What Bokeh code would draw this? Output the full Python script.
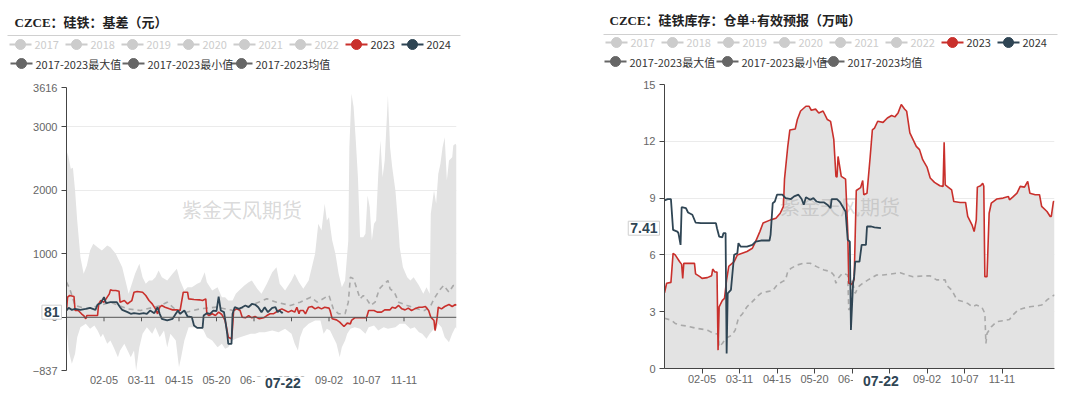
from bokeh.plotting import figure
from bokeh.layouts import row, column
from bokeh.models import Range1d, FixedTicker, Label, Span
from bokeh.core.properties import value
from bokeh.embed import file_html
from bokeh.resources import INLINE

# ---------------- texts ----------------
TITLE_BASIS = "CZCE：硅铁：基差（元）"
TITLE_INV = "CZCE：硅铁库存：仓单+有效预报（万吨）"
WATERMARK = "紫金天风期货"
LEGEND_INACTIVE = ["2017", "2018", "2019", "2020", "2021", "2022"]
LEGEND_ACTIVE = ["2023", "2024"]
LEGEND_STATS = ["2017-2023最大值", "2017-2023最小值", "2017-2023均值"]
TICK_DAYS = [35, 70, 105, 140, 175, 210, 245, 280, 315]
TICK_LABELS = ["02-05", "03-11", "04-15", "05-20", "06-24", "07-29", "09-02", "10-07", "11-11"]
POINTER_DATE = "07-22"

# ---------------- basis (元), day index 0 = 01-01 ----------------
basis_2023_day = [0, 1, 3, 7, 8, 11, 14, 16, 18, 19, 29, 30, 32, 35, 38, 40, 41, 43, 46, 49, 50, 54, 57, 59, 61, 63, 66, 71, 74, 77, 80, 83, 85, 87, 89, 92, 96, 99, 103, 106, 109, 113, 114, 119, 124, 127, 130, 131, 133, 136, 139, 142, 145, 148, 149, 151, 154, 155, 156, 159, 162, 164, 167, 170, 173, 176, 180, 184, 187, 190, 193, 198, 201, 204, 207, 210, 213, 215, 217, 218, 221, 223, 226, 229, 232, 235, 238, 241, 245, 246, 248, 252, 255, 259, 262, 265, 266, 269, 276, 280, 282, 287, 290, 294, 297, 302, 304, 307, 310, 313, 316, 319, 322, 325, 329, 332, 335, 338, 340, 343, 344, 346, 347, 350, 353, 357, 360, 363, 364]
basis_2023_val = [107, 317, 343, 327, 107, 107, 55, 28, -24, 28, 28, 212, 264, 238, 317, 369, 432, 422, 422, 411, 238, 264, 212, 238, 264, 395, 406, 395, 343, 264, 212, 133, 55, 159, 186, 159, 133, 117, 117, 107, 395, 395, 290, 280, 275, 264, 290, 55, 28, 55, 28, 81, 44, -50, -129, -313, -339, -155, 107, 133, 107, 2, -8, 28, -8, 13, -24, -8, 28, 55, 55, 107, 133, 107, 81, 107, 81, 159, 55, 107, 107, 55, 159, 170, 133, 159, 133, 159, 144, 107, -24, -40, -76, -145, -92, -103, -50, -8, -8, -8, 107, 107, 81, 81, 117, 117, 159, 144, 186, 133, 117, 144, 107, 133, 159, 159, 170, 107, 2, -50, -208, 2, 159, 133, 170, 201, 170, 201, 186]

basis_2024_day = [0, 2, 5, 8, 13, 18, 22, 27, 29, 32, 35, 37, 41, 47, 50, 52, 57, 60, 63, 68, 72, 75, 78, 82, 85, 87, 89, 94, 99, 102, 104, 106, 110, 113, 117, 119, 122, 127, 128, 131, 134, 137, 140, 142, 144, 147, 148, 150, 151, 154, 155, 157, 161, 164, 167, 170, 173, 176, 179, 182, 185, 188, 192, 195, 197, 199, 201, 202]
basis_2024_val = [107, 149, 117, 133, 117, 133, 149, 117, 201, 222, 317, 222, 238, 238, 159, 117, 81, 55, 65, 55, 65, 55, 107, 65, 159, 55, -24, -50, -24, 55, 107, 55, 107, 13, 2, -129, -166, -166, 28, 65, 55, 107, 96, 327, 107, 81, -24, -260, -418, -418, 55, 159, 133, 159, 186, 159, 212, 201, 159, 81, 159, 81, 149, 159, 81, 107, 70, 81]

basis_mean_day = [0, 3, 8, 19, 31, 41, 57, 69, 88, 94, 106, 125, 140, 156, 172, 187, 196, 209, 218, 228, 234, 242, 245, 249, 254, 260, 263, 265, 268, 271, 274, 277, 280, 284, 288, 292, 295, 300, 302, 306, 310, 318, 327, 334, 340, 343, 348, 352, 357, 361, 364]
basis_mean_val = [553, 448, 186, 134, 186, 238, 134, 107, 186, 238, 55, 134, 160, 107, 186, 291, 238, 186, 238, 317, 238, 317, 343, 134, 55, 55, 238, 632, 605, 448, 291, 343, 291, 186, 238, 448, 501, 579, 448, 396, 238, 186, 134, 107, 186, 291, 422, 501, 396, 501, 490]

basis_max_day = [0, 1, 4, 6, 8, 10, 13, 16, 19, 22, 25, 29, 33, 38, 41, 46, 49, 52, 55, 58, 61, 64, 68, 71, 74, 77, 80, 83, 86, 89, 94, 99, 103, 106, 110, 113, 117, 122, 125, 129, 131, 136, 141, 145, 148, 151, 155, 158, 161, 166, 170, 173, 178, 182, 187, 192, 196, 199, 204, 210, 213, 217, 221, 226, 229, 232, 235, 238, 241, 243, 245, 248, 251, 254, 257, 260, 263, 264, 266, 268, 270, 272, 274, 277, 279, 281, 283, 285, 287, 289, 291, 293, 295, 297, 300, 302, 304, 307, 310, 311, 314, 318, 321, 324, 329, 333, 336, 339, 340, 343, 345, 347, 349, 351, 353, 355, 357, 360, 361, 363, 364]
basis_max_val = [2467, 2598, 2336, 2352, 1995, 1523, 946, 684, 815, 1051, 1156, 1103, 1051, 1130, 1103, 999, 894, 789, 579, 369, 527, 684, 841, 631, 527, 579, 579, 631, 736, 631, 579, 684, 763, 579, 422, 474, 474, 527, 553, 710, 553, 422, 474, 317, 317, 264, 264, 369, 422, 500, 553, 579, 448, 369, 527, 710, 789, 527, 422, 579, 684, 553, 448, 579, 789, 999, 1471, 1366, 1785, 1523, 1576, 1208, 999, 684, 474, 579, 1208, 2677, 3516, 3306, 2782, 2205, 1261, 1261, 1313, 1916, 1733, 1208, 1471, 1523, 2257, 2782, 2205, 2467, 3490, 2677, 2362, 1995, 1366, 1103, 789, 631, 579, 631, 500, 369, 474, 369, 1628, 1995, 1785, 2257, 2415, 2677, 2834, 2153, 2467, 2520, 2703, 2729, 2703]

basis_min_day = [0, 2, 5, 8, 10, 13, 18, 22, 26, 29, 32, 34, 38, 41, 44, 48, 50, 54, 57, 60, 63, 65, 68, 71, 75, 80, 83, 87, 91, 94, 97, 102, 105, 107, 110, 114, 119, 122, 125, 128, 131, 136, 141, 145, 148, 151, 155, 158, 162, 167, 172, 176, 180, 185, 192, 198, 204, 210, 213, 216, 218, 221, 226, 232, 237, 240, 243, 246, 249, 252, 255, 257, 260, 262, 265, 269, 274, 279, 282, 287, 291, 296, 300, 307, 311, 316, 321, 325, 329, 332, 336, 339, 343, 344, 347, 350, 353, 357, 360, 363, 364]
basis_min_val = [-155, -522, -732, -575, -313, -155, -103, -181, -129, -208, -313, -260, -418, -365, -470, -627, -522, -418, -522, -627, -522, -837, -470, -260, -155, -260, -155, -313, -208, -470, -260, -365, -785, -627, -365, -155, -155, -181, -155, -208, -313, -365, -470, -418, -496, -470, -365, -339, -313, -286, -260, -260, -234, -234, -208, -234, -181, -260, -418, -522, -313, -181, -103, -50, -50, -260, -181, -208, -313, -418, -627, -470, -365, -260, -181, -155, -181, -260, -155, -129, -208, -155, -181, -155, -103, -103, -181, -155, -234, -260, -339, -260, -181, -230, -103, -155, -313, -392, -260, -155, -181]

# ---------------- inventory (万吨) ----------------
inv_2023_day = [0, 2, 6, 8, 10, 14, 16, 17, 18, 28, 29, 33, 35, 40, 44, 45, 47, 49, 50, 51, 54, 56, 58, 60, 65, 68, 77, 82, 85, 89, 92, 99, 104, 108, 111, 112, 115, 117, 122, 124, 127, 132, 135, 137, 141, 144, 148, 152, 155, 158, 160, 161, 162, 165, 169, 171, 172, 175, 177, 179, 183, 185, 186, 189, 192, 194, 196, 199, 204, 208, 212, 215, 218, 221, 224, 226, 229, 232, 235, 238, 241, 245, 248, 252, 257, 260, 261, 262, 268, 270, 276, 281, 283, 287, 289, 291, 292, 295, 297, 298, 299, 301, 303, 305, 310, 316, 321, 322, 325, 329, 332, 336, 339, 341, 346, 350, 352, 357, 360, 361, 363, 364]
inv_2023_val = [4.0, 4.5, 4.55, 6.08, 6.0, 5.65, 5.5, 4.76, 5.55, 5.55, 5.0, 4.85, 4.76, 4.8, 4.9, 5.25, 5.1, 5.1, 0.97, 3.26, 3.6, 3.7, 4.7, 5.4, 5.65, 6.0, 6.18, 6.35, 6.7, 7.23, 7.68, 7.85, 7.94, 8.2, 8.56, 10.0, 11.7, 12.6, 12.65, 13.15, 13.6, 13.85, 13.85, 13.64, 13.7, 13.5, 13.6, 13.15, 13.05, 12.1, 10.15, 10.1, 11.2, 10.15, 10.0, 7.3, 4.5, 4.45, 4.7, 9.4, 9.55, 9.93, 9.18, 9.26, 11.2, 12.6, 12.7, 13.06, 13.0, 13.23, 13.36, 13.29, 13.5, 13.94, 13.71, 13.59, 12.44, 12.09, 11.73, 11.56, 11.03, 10.64, 10.06, 9.83, 9.65, 9.62, 11.95, 9.7, 9.44, 8.82, 8.77, 8.77, 8.03, 7.59, 7.23, 7.85, 9.58, 9.65, 9.79, 9.62, 4.85, 4.85, 8.2, 8.73, 8.95, 9.0, 9.09, 8.91, 9.05, 9.26, 9.62, 9.58, 9.88, 9.26, 9.18, 9.18, 8.56, 8.29, 8.03, 8.03, 8.82, 8.82]

inv_2024_day = [0, 3, 6, 8, 12, 13, 15, 16, 20, 22, 26, 29, 34, 48, 49, 51, 54, 55, 57, 58, 59, 62, 64, 65, 68, 69, 71, 77, 82, 85, 90, 98, 99, 101, 103, 105, 110, 113, 118, 121, 125, 128, 130, 132, 136, 139, 142, 145, 149, 152, 155, 156, 161, 164, 169, 171, 173, 174, 176, 177, 178, 182, 184, 188, 189, 193, 196, 202]
inv_2024_val = [8.88, 8.95, 8.95, 7.32, 7.23, 7.15, 6.53, 8.52, 8.47, 8.24, 8.12, 7.71, 7.68, 7.68, 7.41, 6.97, 6.93, 7.15, 7.15, 0.79, 3.97, 4.15, 5.38, 6.0, 6.09, 6.62, 6.44, 6.44, 6.53, 6.7, 6.76, 6.76, 7.06, 8.73, 8.82, 9.18, 9.18, 9.0, 8.95, 9.09, 9.18, 8.95, 8.65, 9.05, 8.91, 9.0, 8.82, 8.77, 8.77, 8.65, 8.47, 8.95, 8.95, 8.77, 8.29, 6.8, 6.7, 2.03, 4.5, 4.85, 5.65, 5.65, 6.53, 6.53, 7.5, 7.5, 7.45, 7.41]

inv_mean_day = [0, 6, 10, 15, 21, 30, 37, 41, 46, 50, 51, 54, 57, 60, 63, 66, 69, 73, 77, 82, 87, 90, 96, 101, 105, 110, 113, 115, 118, 124, 130, 136, 142, 149, 155, 158, 160, 162, 166, 171, 172, 174, 175, 178, 181, 184, 190, 198, 204, 210, 220, 226, 232, 241, 248, 254, 262, 263, 268, 273, 279, 283, 287, 291, 296, 299, 300, 301, 305, 310, 316, 322, 325, 330, 335, 341, 347, 352, 357, 361, 364]
inv_mean_val = [2.65, 2.56, 2.38, 2.29, 2.24, 2.12, 2.06, 2.0, 1.85, 1.82, 1.15, 1.32, 1.59, 1.68, 1.76, 2.03, 2.65, 2.91, 3.26, 3.53, 3.83, 3.97, 4.06, 4.11, 4.41, 4.59, 4.68, 5.12, 5.29, 5.47, 5.56, 5.56, 5.38, 5.2, 5.12, 4.94, 4.5, 4.76, 5.03, 4.94, 3.09, 3.26, 4.68, 3.97, 4.32, 4.46, 4.68, 4.94, 4.94, 4.98, 5.06, 4.94, 4.85, 4.89, 4.89, 4.68, 4.68, 4.41, 4.15, 3.62, 3.53, 3.44, 3.26, 3.35, 3.26, 2.91, 1.32, 1.85, 2.2, 2.47, 2.52, 2.59, 2.82, 3.09, 3.18, 3.26, 3.3, 3.35, 3.62, 3.79, 3.88]

# the 2017-2023 maximum coincides with 2023 in this chart; the minimum sits at 0
inv_max_day = inv_2023_day
inv_max_val = inv_2023_val
inv_min_day = [0, 364]
inv_min_val = [0, 0]

# ---------------- styling ----------------
RED = "#c9302c"
BLUE = "#2f4554"
GREY_OFF = "#cccccc"
STAT = "#666666"
BAND = "#e3e3e3"
MEAN = "#a9a9a9"
CJK = "Noto Sans CJK SC"
TITLE_FONT = "Liberation Serif, Noto Sans CJK SC"
NUM = "Liberation Sans"


def make_header(width, height, title, tx, ty, rule, r1x, r1y, r2xs, r2y):
    h = figure(width=width, height=height, x_range=Range1d(0, width), y_range=Range1d(height, 0),
               x_axis_location=None, y_axis_location=None, toolbar_location=None,
               output_backend="svg", min_border=0, outline_line_color=None, frame_align=False)
    h.grid.visible = False
    h.text(x=[tx], y=[ty], text=[title], text_font=value(TITLE_FONT), text_font_size="13px",
           text_font_style="bold", text_color="#222222", text_baseline="middle")
    h.segment(x0=[rule[0]], y0=[rule[2]], x1=[rule[1]], y1=[rule[2]], line_color="#d0d0d0", line_width=1)
    names = LEGEND_INACTIVE + LEGEND_ACTIVE
    cols = [GREY_OFF] * len(LEGEND_INACTIVE) + [RED, BLUE]
    tcols = [GREY_OFF] * len(LEGEND_INACTIVE) + ["#333333"] * len(LEGEND_ACTIVE)
    xs = [r1x + 56 * i for i in range(len(names))]
    ys = [r1y] * len(names)
    h.segment(x0=[x - 11 for x in xs], y0=ys, x1=[x + 11 for x in xs], y1=ys, line_color=cols, line_width=2)
    h.scatter(x=xs, y=ys, size=10, fill_color=cols, line_color=cols)
    h.text(x=[x + 14 for x in xs], y=ys, text=names, text_color=tcols, text_font=value(CJK),
           text_font_size="11px", text_baseline="middle")
    ys2 = [r2y] * len(LEGEND_STATS)
    h.segment(x0=[x - 11 for x in r2xs], y0=ys2, x1=[x + 11 for x in r2xs], y1=ys2, line_color=STAT, line_width=2)
    h.scatter(x=r2xs, y=ys2, size=10, fill_color=STAT, line_color=STAT)
    h.text(x=[x + 14 for x in r2xs], y=ys2, text=LEGEND_STATS, text_color="#333333", text_font=value(CJK),
           text_font_size="11px", text_baseline="middle")
    return h


def style_axes(p):
    p.xgrid.visible = False
    p.ygrid.grid_line_color = "#ebebeb"
    for ax in (p.xaxis[0], p.yaxis[0]):
        ax.major_label_text_font = NUM
        ax.major_label_text_font_size = "11px"
        ax.major_label_text_color = "#666666"
        ax.minor_tick_line_color = None
        ax.major_tick_in = 0
    p.xaxis.ticker = FixedTicker(ticks=TICK_DAYS)
    p.xaxis.major_label_overrides = dict(zip(TICK_DAYS, TICK_LABELS))
    p.yaxis.axis_line_color = "#444444"
    p.yaxis.major_tick_line_color = "#444444"
    p.yaxis.major_tick_out = 5
    p.yaxis.major_label_standoff = 4


def pointer_labels(p, day, val, ybottom, dy, date_side):
    # axis-pointer boxes; they sit in side panels so that they are not clipped to the frame
    p.add_layout(Label(x=0, y=val, text=str(val), x_offset=-5, text_align="right", text_baseline="middle",
                       text_font=NUM, text_font_size="14px", text_font_style="bold", text_color=BLUE,
                       background_fill_color="white", border_line_color="#cfcfcf", padding=2), "left")
    p.add_layout(Label(x=day, y=ybottom, y_offset=dy, text=POINTER_DATE, text_align="center",
                       text_baseline="middle", text_font=NUM, text_font_size="14px", text_font_style="bold",
                       text_color=BLUE, background_fill_color="white",
                       padding=dict(left=10, right=10, top=1, bottom=1)), date_side)


# ================= left: basis =================
B_LO, B_HI = -837, 3616
H1_HEAD = 80
p1 = figure(width=600, height=393 - H1_HEAD, x_range=Range1d(0, 364), y_range=Range1d(B_LO, B_HI),
            toolbar_location=None, output_backend="svg", outline_line_color=None, frame_align=False,
            min_border_left=66, min_border_right=144, min_border_top=7, min_border_bottom=23)
style_axes(p1)
p1.yaxis.ticker = FixedTicker(ticks=[B_LO, 0, 1000, 2000, 3000, B_HI])
p1.ygrid.ticker = FixedTicker(ticks=[1000, 2000, 3000, B_HI])
p1.xaxis.axis_line_color = None
p1.xaxis.major_tick_line_color = None
p1.xaxis.major_tick_out = 0
p1.xaxis.major_label_standoff = 5

p1.patch(basis_max_day + basis_min_day[::-1], basis_max_val + basis_min_val[::-1],
         fill_color=BAND, line_color=None)
p1.text(x=[0.45 * 364], y=[B_LO + 0.57 * (B_HI - B_LO)], text=[WATERMARK], text_font=value(CJK),
        text_font_size="20px", text_color="#a0a0a0", text_alpha=0.4, text_align="center", text_baseline="middle")
p1.line(basis_mean_day, basis_mean_val, line_color=MEAN, line_width=1.6, line_dash="5 4")
p1.line(basis_2023_day, basis_2023_val, line_color=RED, line_width=1.6)
p1.line(basis_2024_day, basis_2024_val, line_color=BLUE, line_width=1.8)
p1.add_layout(Span(location=0, dimension="width", line_color="#555555", line_width=1))
tick_len = 4 * (B_HI - B_LO) / 283
p1.segment(x0=TICK_DAYS, y0=[0] * len(TICK_DAYS), x1=TICK_DAYS, y1=[-tick_len] * len(TICK_DAYS),
           line_color="#555555", line_width=1)
pointer_labels(p1, basis_2024_day[-1], basis_2024_val[-1], B_LO, -12, "right")

# ================= right: inventory =================
H2_HEAD = 70
p2 = figure(width=480, height=393 - H2_HEAD, x_range=Range1d(0, 364), y_range=Range1d(0, 15),
            toolbar_location=None, output_backend="svg", outline_line_color=None, frame_align=False,
            min_border_left=64, min_border_right=26, min_border_top=14, min_border_bottom=25)
style_axes(p2)
p2.yaxis.ticker = FixedTicker(ticks=[0, 3, 6, 9, 12, 15])
p2.ygrid.ticker = FixedTicker(ticks=[3, 6, 9, 12, 15])
p2.xaxis.axis_line_color = "#444444"
p2.xaxis.major_tick_line_color = "#444444"
p2.xaxis.major_tick_out = 5
p2.xaxis.major_label_standoff = 1

p2.patch(inv_max_day + inv_min_day[::-1], inv_max_val + inv_min_val[::-1], fill_color=BAND, line_color=None)
p2.text(x=[0.45 * 364], y=[0.57 * 15], text=[WATERMARK], text_font=value(CJK),
        text_font_size="20px", text_color="#a0a0a0", text_alpha=0.4, text_align="center", text_baseline="middle")
p2.line(inv_mean_day, inv_mean_val, line_color=MEAN, line_width=1.6, line_dash="5 4")
p2.line(inv_2023_day, inv_2023_val, line_color=RED, line_width=1.6)
p2.line(inv_2024_day, inv_2024_val, line_color=BLUE, line_width=1.8)
pointer_labels(p2, inv_2024_day[-1], inv_2024_val[-1], 0, -12, "above")

# ================= headers =================
h1 = make_header(600, H1_HEAD, TITLE_BASIS, 14, 22, (7, 460, 35), 20, 44, [21, 133, 241], 63)
h2 = make_header(480, H2_HEAD, TITLE_INV, 9, 20, (3, 457, 34), 16, 42, [15, 127, 233], 61)

layout = row(column(h1, p1, spacing=0), column(h2, p2, spacing=0), spacing=0)

with open("out.html", "w") as f:
    f.write(file_html(layout, INLINE))
